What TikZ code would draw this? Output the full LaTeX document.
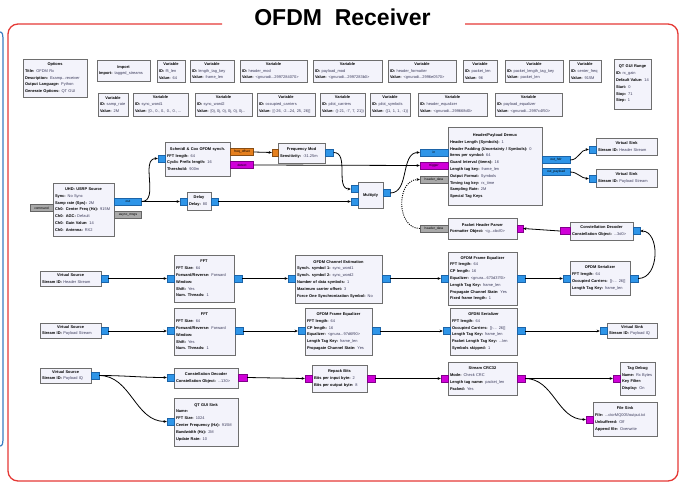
\documentclass[tikz,border=0pt]{standalone}
\usepackage{fontspec}
\setmainfont{Liberation Sans}
\usetikzlibrary{arrows.meta}
\definecolor{framered}{HTML}{E53935}
\definecolor{blkfill}{HTML}{F3F3FB}
\definecolor{blkdraw}{HTML}{6E6E6E}
\definecolor{pblue}{HTML}{2E95E8}
\definecolor{pbluedk}{HTML}{1C64A8}
\definecolor{pmag}{HTML}{D000D8}
\definecolor{pmagdk}{HTML}{80008A}
\definecolor{porange}{HTML}{E5801E}
\definecolor{pgrey}{HTML}{A9A9A9}
\definecolor{valtxt}{HTML}{3A3A5A}
\definecolor{sideblue}{HTML}{3A7CC0}
\newcommand{\kv}[2]{\mbox{\textbf{#1:} \textcolor{valtxt}{#2}}}
\newcommand{\ttl}[1]{{\centering\textbf{#1}\par}}
\newcommand{\gblk}[6]{%
 \pgfmathsetmacro\gbtw{#4-4}%
 \pgfmathsetmacro\gbcx{#2+#4/2}%
 \pgfmathsetmacro\gbcy{#3+#5/2}%
 \node[blk, minimum width=#4pt, minimum height=#5pt, text width=\gbtw pt] (#1) at (\gbcx,\gbcy) {#6};}
\newcommand{\varblk}[7]{\gblk{#1}{#2}{#3}{#4}{#5}{\ttl{Variable}\kv{ID}{#6}\\\kv{Value}{#7}}}
\tikzset{
 blk/.style={draw=blkdraw, fill=blkfill, line width=0.9pt, inner sep=1.5pt, font=\fontsize{3.95}{6.8}\selectfont},
 port/.style={draw, minimum height=7pt, inner sep=0pt, font=\fontsize{3.3}{3.5}\selectfont, line width=0.4pt},
 pb/.style={port, fill=pblue, draw=pbluedk},
 pm/.style={port, fill=pmag, draw=pmagdk},
 po/.style={port, fill=porange, draw=porange!60!black},
 pg/.style={port, fill=pgrey, draw=pgrey!60!black},
 conn/.style={line width=0.8pt, -{Stealth[length=3.2pt,width=2.8pt]}},
 msgconn/.style={line width=0.9pt, dash pattern=on 1pt off 1.2pt, -{Stealth[length=3.2pt,width=2.8pt]}},
}
\begin{document}
\begin{tikzpicture}[x=1pt,y=-1pt]
\useasboundingbox (0,0) rectangle (685,487);
% side panel edge and frame
\draw[sideblue, line width=1.2pt] (0,32) to[out=0,in=90] (3,38) -- (3,440) to[out=-90,in=0] (0,446);
\draw[framered, line width=1.3pt, rounded corners=10pt] (222,24) -- (8,24) -- (8,481) -- (678,481) -- (678,24) -- (465,24);
\node[font=\fontsize{23}{26}\selectfont\bfseries] (title) at (342.5,17) {OFDM\ \ Receiver};

% ---- row 1 ----
\gblk{opt}{23}{59}{64}{38}{\ttl{Options}\kv{Title}{OFDM Rx}\\\kv{Description}{Examp...receiver}\\\kv{Output Language}{Python}\\\kv{Generate Options}{QT GUI}}
\gblk{imp}{97}{60}{53}{21}{\ttl{Import}\kv{Import}{tagged\_streams}}
\varblk{v1}{157}{60}{28}{22}{fft\_len}{64}
\varblk{v2}{190}{60}{44}{22}{length\_tag\_key}{frame\_len}
\varblk{v3}{240}{60}{67}{22}{header\_mod}{<gnuradi...2997284070>}
\varblk{v4}{313}{60}{69}{22}{payload\_mod}{<gnuradi...2997283b0>}
\varblk{v5}{388}{60}{68}{22}{header\_formatter}{<gnuradi...2996e0570>}
\varblk{v6}{463}{60}{34}{22}{packet\_len}{96}
\varblk{v7}{505}{60}{58}{22}{packet\_length\_tag\_key}{packet\_len}
\varblk{v8}{569}{60}{32}{22}{center\_freq}{915M}
\gblk{qtr}{614}{59}{37}{50}{\ttl{QT GUI Range}\kv{ID}{rx\_gain}\\\kv{Default Value}{14}\\\kv{Start}{0}\\\kv{Stop}{71}\\\kv{Step}{1}}
% ---- row 2 ----
\varblk{w1}{98}{93}{30}{23}{samp\_rate}{2M}
\varblk{w2}{133}{93}{55}{23}{sync\_word1}{[0., 0., 0., 0., 0., ...}
\varblk{w3}{195}{93}{57}{23}{sync\_word2}{[0j, 0j, 0j, 0j, 0j, 0j...}
\varblk{w4}{257}{93}{58}{23}{occupied\_carriers}{[(-26, -2...24, 25, 26)]}
\varblk{w5}{320}{93}{45}{23}{pilot\_carriers}{((-21, -7, 7, 21))}
\varblk{w6}{370}{93}{40}{23}{pilot\_symbols}{((1, 1, 1, -1))}
\varblk{w7}{418}{93}{69}{23}{header\_equalizer}{<gnuradi...299668d0>}
\varblk{w8}{495}{93}{67}{23}{payload\_equalizer}{<gnuradi...2997c4f50>}

% ---- receiver front end ----
\gblk{usrp}{53}{183}{61}{53}{\ttl{UHD: USRP Source}\kv{Sync}{No Sync}\\\kv{Samp rate (Sps)}{2M}\\\kv{Ch0: Center Freq (Hz)}{915M}\\\kv{Ch0: AGC}{Default}\\\kv{Ch0: Gain Value}{14}\\\kv{Ch0: Antenna}{RX2}}
\gblk{sch}{165}{142}{65}{34}{\ttl{Schmidl \& Cox OFDM synch.}\kv{FFT length}{64}\\\kv{Cyclic Prefix length}{16}\\\kv{Threshold}{900m}}
\gblk{fmod}{278}{143}{47}{20}{\ttl{Frequency Mod}\kv{Sensitivity}{-31.25m}}
\gblk{dly}{187}{192}{24}{18}{\ttl{Delay}\kv{Delay}{80}}
\gblk{mul}{358}{182}{25}{26}{\ttl{Multiply}}
\gblk{hpd}{448}{127}{94}{78}{\ttl{Header/Payload Demux}\kv{Header Length (Symbols)}{1}\\\kv{Header Padding (Uncertainty / Symbols)}{0}\\\kv{Items per symbol}{64}\\\kv{Guard Interval (items)}{16}\\\kv{Length tag key}{frame\_len}\\\kv{Output Format}{Symbols}\\\kv{Timing tag key}{rx\_time}\\\kv{Sampling Rate}{2M}\\\mbox{\textbf{Special Tag Keys}}}
\gblk{vsh}{596}{138}{61}{17}{\ttl{Virtual Sink}\kv{Stream ID}{Header Stream}}
\gblk{vsp}{596}{169}{61}{18}{\ttl{Virtual Sink}\kv{Stream ID}{Payload Stream}}
\gblk{php}{448}{218}{69}{21}{\ttl{Packet Header Parser}\kv{Formatter Object}{<g...cbcf0>}}
\gblk{cd1}{570}{222}{63}{18}{\ttl{Constellation Decoder}\kv{Constellation Object}{...3d0>}}

% ---- header chain ----
\gblk{vsrch}{40}{271}{61}{15}{\ttl{Virtual Source}\kv{Stream ID}{Header Stream}}
\gblk{fft1}{174}{255}{60}{47}{\ttl{FFT}\kv{FFT Size}{64}\\\kv{Forward/Reverse}{Forward}\\\mbox{\textbf{Window:}}\\\kv{Shift}{Yes}\\\kv{Num. Threads}{1}}
\gblk{ce}{295}{255}{87}{48}{\ttl{OFDM Channel Estimation}\kv{Synch. symbol 1}{sync\_word1}\\\kv{Synch. symbol 2}{sync\_word2}\\\kv{Number of data symbols}{1}\\\kv{Maximum carrier offset}{3}\\\kv{Force One Synchronization Symbol}{No}}
\gblk{feq1}{448}{252}{69}{53}{\ttl{OFDM Frame Equalizer}\kv{FFT length}{64}\\\kv{CP length}{16}\\\kv{Equalizer}{<gnura...673d37f0>}\\\kv{Length Tag Key}{frame\_len}\\\kv{Propagate Channel State}{Yes}\\\kv{Fixed frame length}{1}}
\gblk{ser1}{570}{261}{60}{34}{\ttl{OFDM Serializer}\kv{FFT length}{64}\\\kv{Occupied Carriers}{[(-... 26)]}\\\kv{Length Tag Key}{frame\_len}}

% ---- payload chain ----
\gblk{vsrcp}{40}{323}{61}{15}{\ttl{Virtual Source}\kv{Stream ID}{Payload Stream}}
\gblk{fft2}{174}{308}{61}{47}{\ttl{FFT}\kv{FFT Size}{64}\\\kv{Forward/Reverse}{Forward}\\\mbox{\textbf{Window:}}\\\kv{Shift}{Yes}\\\kv{Num. Threads}{1}}
\gblk{feq2}{305}{308}{67}{47}{\ttl{OFDM Frame Equalizer}\kv{FFT length}{64}\\\kv{CP length}{16}\\\kv{Equalizer}{<gnura...97d6f90>}\\\kv{Length Tag Key}{frame\_len}\\\kv{Propagate Channel State}{Yes}}
\gblk{ser2}{450}{308}{67}{47}{\ttl{OFDM Serializer}\kv{FFT length}{64}\\\kv{Occupied Carriers}{[(-... 26)]}\\\kv{Length Tag Key}{frame\_len}\\\kv{Packet Length Tag Key}{...len}\\\kv{Symbols skipped}{1}}
\gblk{vsiq}{607}{323}{50}{15}{\ttl{Virtual Sink}\kv{Stream ID}{Payload IQ}}

% ---- decoding chain ----
\gblk{vsrciq}{40}{368}{51}{15}{\ttl{Virtual Source}\kv{Stream ID}{Payload IQ}}
\gblk{cd2}{174}{368}{64}{20}{\ttl{Constellation Decoder}\kv{Constellation Object}{...130>}}
\gblk{qts}{174}{398}{64}{48}{\ttl{QT GUI Sink}\mbox{\textbf{Name:}}\\\kv{FFT Size}{1024}\\\kv{Center Frequency (Hz)}{915M}\\\kv{Bandwidth (Hz)}{2M}\\\kv{Update Rate}{10}}
\gblk{rep}{312}{365}{55}{27}{\ttl{Repack Bits}\kv{Bits per input byte}{2}\\\kv{Bits per output byte}{8}}
\gblk{crc}{448}{362}{69}{33}{\ttl{Stream CRC32}\kv{Mode}{Check CRC}\\\kv{Length tag name}{packet\_len}\\\kv{Packed}{Yes}}
\gblk{tdbg}{620}{362}{35}{33}{\ttl{Tag Debug}\kv{Name}{Rx Bytes}\\\mbox{\textbf{Key Filter:}}\\\kv{Display}{On}}
\gblk{fsk}{593}{402}{64}{34}{\ttl{File Sink}\kv{File}{...ctorMQ005/output.txt}\\\kv{Unbuffered}{Off}\\\kv{Append file}{Overwrite}}

% ---- ports ----
\node[pg,minimum width=23pt] (ucmd) at (41.5,208) {command};
\node[pb,minimum width=27pt] (uout) at (128,201.5) {out};
\node[pg,minimum width=27pt] (uasy) at (128,215) {async\_msgs};
\node[pb,minimum width=7pt] (schin) at (161.5,158.5) {};
\node[po,minimum width=23pt] (schfo) at (242,152) {freq\_offset};
\node[pm,minimum width=23pt] (schdet) at (242,165) {detect};
\node[po,minimum width=6pt] (fmin) at (275,152.5) {};
\node[pb,minimum width=8pt] (fmout) at (329.5,152.5) {};
\node[pb,minimum width=7pt] (dlyin) at (183.5,201.5) {};
\node[pb,minimum width=7pt] (dlyout) at (214.5,201.5) {};
\node[pb,minimum width=7pt] (mulin0) at (354.5,189) {};
\node[pb,minimum width=7pt] (mulin1) at (354.5,201.5) {};
\node[pb,minimum width=7pt] (mulout) at (386.5,193) {};
\node[pb,minimum width=28pt] (hpdin) at (434,152.5) {in};
\node[pm,minimum width=28pt] (hpdtrig) at (434,165.5) {trigger};
\node[pg,minimum width=28pt] (hpdhdr) at (434,179.5) {header\_data};
\node[pb,minimum width=28pt] (hpdoh) at (556,160) {out\_hdr};
\node[pb,minimum width=28pt] (hpdop) at (556,172) {out\_payload};
\node[pb,minimum width=7pt] (vshin) at (592.5,149.5) {};
\node[pb,minimum width=7pt] (vspin) at (592.5,178.5) {};
\node[pg,minimum width=28pt] (phphdr) at (434,228.5) {header\_data};
\node[pm,minimum width=6pt] (phpin) at (520,228.5) {};
\node[pm,minimum width=10pt] (cd1out) at (565,231) {};
\node[pb,minimum width=7pt] (cd1in) at (636.5,231) {};
\node[pb,minimum width=7pt] (ser1in) at (566.5,278.5) {};
\node[pb,minimum width=8pt] (ser1out) at (634,278.5) {};
\node[pb,minimum width=7pt] (feq1in) at (444.5,278.5) {};
\node[pb,minimum width=8pt] (feq1out) at (521,278.5) {};
\node[pb,minimum width=7pt] (cein) at (291.5,278.5) {};
\node[pb,minimum width=8pt] (ceout) at (386,278.5) {};
\node[pb,minimum width=7pt] (fft1in) at (170.5,278.5) {};
\node[pb,minimum width=8pt] (fft1out) at (238,278.5) {};
\node[pb,minimum width=7pt] (vsrchout) at (104.5,278.5) {};
\node[pb,minimum width=7pt] (vsrcpout) at (104.5,331) {};
\node[pb,minimum width=7pt] (fft2in) at (170.5,331) {};
\node[pb,minimum width=8pt] (fft2out) at (239,331) {};
\node[pb,minimum width=7pt] (feq2in) at (301.5,331) {};
\node[pb,minimum width=8pt] (feq2out) at (376,331) {};
\node[pb,minimum width=7pt] (ser2in) at (446.5,331) {};
\node[pb,minimum width=8pt] (ser2out) at (521,331) {};
\node[pb,minimum width=7pt] (vsiqin) at (603.5,331) {};
\node[pb,minimum width=8pt] (vsrciqout) at (95,375.5) {};
\node[pb,minimum width=7pt] (cd2in) at (170.5,377.5) {};
\node[pm,minimum width=9pt] (cd2out) at (242.5,377.5) {};
\node[pb,minimum width=7pt] (qtsin) at (170.5,421.5) {};
\node[pm,minimum width=7pt] (repin) at (308.5,378.5) {};
\node[pm,minimum width=8pt] (repout) at (371,378.5) {};
\node[pm,minimum width=7pt] (crcin) at (444.5,378.5) {};
\node[pm,minimum width=8pt] (crcout) at (521,378.5) {};
\node[pm,minimum width=7pt] (tdbgin) at (616.5,378.5) {};
\node[pm,minimum width=7pt] (fskin) at (589.5,419.5) {};

% ---- connections ----
\draw[conn] (uout.east) to[out=0,in=180] (schin.west);
\draw[conn] (uout.east) -- (dlyin.west);
\draw[conn] (schfo.east) -- (fmin.west);
\draw[conn] (schdet.east) -- (hpdtrig.west);
\draw[conn] (fmout.east) to[out=0,in=180] (mulin0.west);
\draw[conn] (dlyout.east) -- (mulin1.west);
\draw[conn] (mulout.east) to[out=0,in=180] (hpdin.west);
\draw[msgconn] (phphdr.west) .. controls (396,228.5) and (396,179.5) .. (hpdhdr.west);
\draw[conn] (hpdoh.east) to[out=0,in=180] (vshin.west);
\draw[conn] (hpdop.east) to[out=0,in=180] (vspin.west);
\draw[conn] (cd1out.west) -- (phpin.east);
\draw[conn] (ser1out.east) .. controls (660,278.5) and (660,231) .. (cd1in.east);
\draw[conn] (vsrchout.east) -- (fft1in.west);
\draw[conn] (fft1out.east) -- (cein.west);
\draw[conn] (ceout.east) -- (feq1in.west);
\draw[conn] (feq1out.east) -- (ser1in.west);
\draw[conn] (vsrcpout.east) -- (fft2in.west);
\draw[conn] (fft2out.east) -- (feq2in.west);
\draw[conn] (feq2out.east) -- (ser2in.west);
\draw[conn] (ser2out.east) -- (vsiqin.west);
\draw[conn] (vsrciqout.east) to[out=0,in=180] (cd2in.west);
\draw[conn] (vsrciqout.east) to[out=0,in=180] (qtsin.west);
\draw[conn] (cd2out.east) -- (repin.west);
\draw[conn] (repout.east) -- (crcin.west);
\draw[conn] (crcout.east) -- (tdbgin.west);
\draw[conn] (crcout.east) to[out=0,in=180] (fskin.west);
\end{tikzpicture}
\end{document}
